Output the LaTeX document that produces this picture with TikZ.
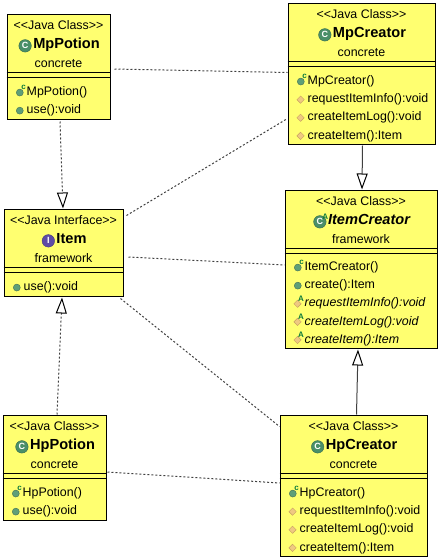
\documentclass[tikz,border=0pt]{standalone}
\usepackage{fontspec}
\setmainfont{Liberation Sans}
\usetikzlibrary{arrows.meta,positioning,shapes.geometric}
\definecolor{boxyellow}{HTML}{FFFF70}
\definecolor{classgreen}{HTML}{4A8F68}
\definecolor{ifacepurple}{HTML}{5E4BA6}
\definecolor{dotgreen}{HTML}{5F9F78}
\definecolor{markgreen}{HTML}{0B7A3B}
\definecolor{protfill}{HTML}{EFC981}
\definecolor{protedge}{HTML}{C8A060}

\begin{document}
\begin{tikzpicture}[
x=1pt, y=-1pt,
umlbox/.style={rectangle, draw=black, line width=1pt, fill=boxyellow, inner sep=0pt},
row/.style={inner sep=0pt, text height=12pt, text depth=6.5pt, minimum height=18.5pt, font=\fontsize{12.4}{14}\selectfont},
classname/.style={row, xshift=8pt, label distance=2pt, font=\fontsize{14.6}{16}\selectfont\bfseries},
badge/.style={circle, inner sep=0pt, xshift=-1.5pt, minimum size=12.5pt, draw=#1!75!black, fill=#1, text=white, font=\fontsize{9}{9}\selectfont\bfseries},
supmark/.style={inner sep=0pt, xshift=-0.5pt, yshift=5pt, text=markgreen, font=\fontsize{8}{8}\selectfont\bfseries},
member/.style={row, anchor=north west, text depth=5.7pt, minimum height=17.7pt, label distance=4pt},
pubdot/.style={circle, inner sep=0pt, xshift=-3pt, minimum size=7pt, draw=dotgreen!70!black, fill=dotgreen},
protmark/.style={diamond, inner sep=0pt, xshift=-3pt, minimum size=7.5pt, draw=protedge, fill=protfill},
pubm/.style={member, label={[pubdot]left:{}}},
ctorm/.style={member, label={[pubdot]left:{}}, label={[supmark]left:c}},
protm/.style={member, label={[protmark]left:{}}},
absm/.style={member, font=\fontsize{12.4}{14}\selectfont\itshape, label={[protmark]left:{}}, label={[supmark]left:A}},
dep/.style={dash pattern=on 2pt off 2pt, line width=1pt, draw=black!75},
realizes/.style={dep, -{Triangle[open, length=16pt, width=11pt, line width=1pt, black]}},
extends/.style={line width=1pt, draw=black!75, -{Triangle[open, length=16pt, width=11pt, line width=1pt, black]}}
]
\useasboundingbox (0,0) rectangle (440,560);

\node[umlbox, minimum width=103pt, minimum height=105pt] (mppotion) at (58.5,66.5) {};
\node[umlbox, minimum width=119pt, minimum height=87pt] (item) at (63.5,252.5) {};
\node[umlbox, minimum width=103pt, minimum height=105pt] (hppotion) at (54.5,467.5) {};
\node[umlbox, minimum width=147pt, minimum height=141pt] (mpcreator) at (361.5,73.5) {};
\node[umlbox, minimum width=152pt, minimum height=158pt] (itemcreator) at (361,269) {};
\node[umlbox, minimum width=147pt, minimum height=141pt] (hpcreator) at (353.5,485.5) {};

\foreach \boxname in {mppotion,item,hppotion,mpcreator,itemcreator,hpcreator}{
  \draw[line width=1pt] ([yshift=-59pt]\boxname.north west) -- ([yshift=-59pt]\boxname.north east);
  \draw[line width=1pt] ([yshift=-64pt]\boxname.north west) -- ([yshift=-64pt]\boxname.north east);
}

% MpPotion
\node[row, below=4pt of mppotion.north] (mppotionstereo) {<{}<Java Class>{}>};
\node[below=0pt of mppotionstereo, classname, label={[badge=classgreen]left:C}] (mppotionname) {MpPotion};
\node[below=0pt of mppotionname, row, xshift=-8pt] (mppotionpkg) {concrete};
\node[below right=70pt and 20pt of mppotion.north west, ctorm] (mppotionctor) {MpPotion()};
\node[below=0pt of mppotionctor.south west, pubm] (mppotionuse) {use():void};

% Item
\node[row, below=4pt of item.north] (itemstereo) {<{}<Java Interface>{}>};
\node[below=0pt of itemstereo, classname, label={[badge=ifacepurple]left:I}] (itemname) {Item};
\node[below=0pt of itemname, row, xshift=-8pt] (itempkg) {framework};
\node[below right=70pt and 20pt of item.north west, pubm] (itemuse) {use():void};

% HpPotion
\node[row, below=4pt of hppotion.north] (hppotionstereo) {<{}<Java Class>{}>};
\node[below=0pt of hppotionstereo, classname, label={[badge=classgreen]left:C}] (hppotionname) {HpPotion};
\node[below=0pt of hppotionname, row, xshift=-8pt] (hppotionpkg) {concrete};
\node[below right=70pt and 20pt of hppotion.north west, ctorm] (hppotionctor) {HpPotion()};
\node[below=0pt of hppotionctor.south west, pubm] (hppotionuse) {use():void};

% MpCreator
\node[row, below=4pt of mpcreator.north] (mpcreatorstereo) {<{}<Java Class>{}>};
\node[below=0pt of mpcreatorstereo, classname, label={[badge=classgreen]left:C}] (mpcreatorname) {MpCreator};
\node[below=0pt of mpcreatorname, row, xshift=-8pt] (mpcreatorpkg) {concrete};
\node[below right=70pt and 20pt of mpcreator.north west, ctorm] (mpcreatorctor) {MpCreator()};
\node[below=0pt of mpcreatorctor.south west, protm] (mpcreatorinfo) {requestItemInfo():void};
\node[below=0pt of mpcreatorinfo.south west, protm] (mpcreatorlog) {createItemLog():void};
\node[below=0pt of mpcreatorlog.south west, protm] (mpcreatoritem) {createItem():Item};

% ItemCreator
\node[row, below=4pt of itemcreator.north] (itemcreatorstereo) {<{}<Java Class>{}>};
\node[below=0pt of itemcreatorstereo, classname, font=\fontsize{14.6}{16}\selectfont\bfseries\itshape, label={[badge=classgreen]left:C}, label={[supmark,xshift=1pt]left:A}] (itemcreatorname) {ItemCreator};
\node[below=0pt of itemcreatorname, row, xshift=-8pt] (itemcreatorpkg) {framework};
\node[below right=69pt and 20pt of itemcreator.north west, ctorm] (itemcreatorctor) {ItemCreator()};
\node[below=0pt of itemcreatorctor.south west, pubm] (itemcreatorcreate) {create():Item};
\node[below=0pt of itemcreatorcreate.south west, absm] (itemcreatorinfo) {requestItemInfo():void};
\node[below=0pt of itemcreatorinfo.south west, absm] (itemcreatorlog) {createItemLog():void};
\node[below=0pt of itemcreatorlog.south west, absm] (itemcreatoritem) {createItem():Item};

% HpCreator
\node[row, below=4pt of hpcreator.north] (hpcreatorstereo) {<{}<Java Class>{}>};
\node[below=0pt of hpcreatorstereo, classname, label={[badge=classgreen]left:C}] (hpcreatorname) {HpCreator};
\node[below=0pt of hpcreatorname, row, xshift=-8pt] (hpcreatorpkg) {concrete};
\node[below right=70pt and 20pt of hpcreator.north west, ctorm] (hpcreatorctor) {HpCreator()};
\node[below=0pt of hpcreatorctor.south west, protm] (hpcreatorinfo) {requestItemInfo():void};
\node[below=0pt of hpcreatorinfo.south west, protm] (hpcreatorlog) {createItemLog():void};
\node[below=0pt of hpcreatorlog.south west, protm] (hpcreatoritem) {createItem():Item};

\draw[realizes] ([shift={(1.5pt,-2pt)}]mppotion.south) -- ([xshift=-0.5pt]item.north);
\draw[realizes] ([xshift=2.5pt]hppotion.north) -- ([shift={(-1.5pt,-1pt)}]item.south);
\draw[dep] ([shift={(4pt,-2.5pt)}]mppotion.east) -- ([yshift=1pt]mpcreator.west);
\draw[dep] ([shift={(3pt,-7pt)}]item.north east) -- ([yshift=26pt]mpcreator.south west);
\draw[dep] ([shift={(5pt,-4.5pt)}]item.east) -- ([yshift=4pt]itemcreator.west);
\draw[dep] ([shift={(-3pt,-2pt)}]item.south east) -- ([yshift=-12pt]hpcreator.north west);
\draw[dep] ([shift={(1pt,-4.5pt)}]hppotion.east) -- ([yshift=2.5pt]hpcreator.west);
\draw[extends] ([shift={(1pt,-1pt)}]mpcreator.south) -- ([xshift=1pt]itemcreator.north);
\draw[extends] ([xshift=3pt]hpcreator.north) -- ([shift={(-3pt,-1pt)}]itemcreator.south);

\end{tikzpicture}
\end{document}
